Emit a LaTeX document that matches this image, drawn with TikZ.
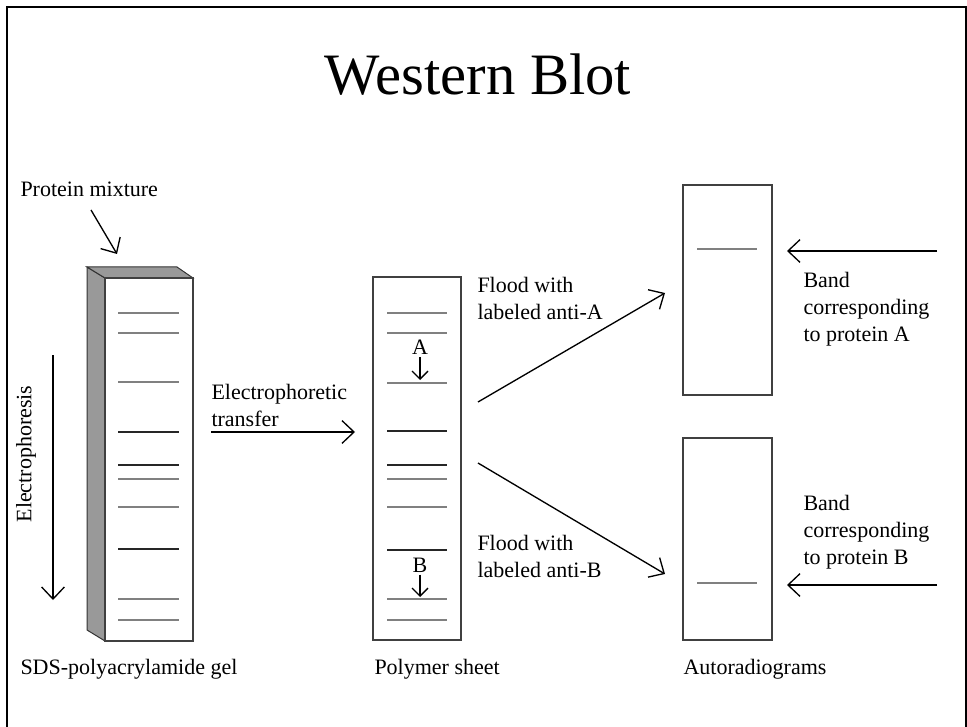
\documentclass[tikz,border=0pt]{standalone}
\usepackage{fontspec}
\setmainfont{Liberation Serif}
\usetikzlibrary{arrows.meta}

\tikzset{every picture/.style={line width=0.75pt}}
\tikzset{
  band/.style={draw=black!50, line width=1.1pt},
  darkband/.style={draw=black!85, line width=1.1pt},
  pointer/.style={line width=1pt, -{Straight Barb[length=9pt,width=17pt,line width=1pt]}},
  smallpointer/.style={line width=1pt, -{Straight Barb[length=6pt,width=12pt,line width=1pt]}},
  lbl/.style={font=\fontsize{16.5}{20.25}\selectfont, align=left, inner sep=0pt},
  panel/.style={draw=black!75, line width=1pt, inner sep=0pt},
}

\begin{document}
\begin{tikzpicture}[x=0.75pt,y=0.75pt,yscale=-1,xscale=1]
\useasboundingbox (0,0) rectangle (967,727);

%Shape: Frame
\draw [line width=1.8pt] (7,7) rectangle (966,760) ;

% Text Node
\draw (478,75) node (title) [font=\fontsize{44}{50}\selectfont] {Western Blot};

%Shape: Gel side and top faces
\draw [draw=black!80, fill=black!40] (87,267) -- (105,278) -- (105,641) -- (87,630) -- cycle ;
\draw [draw=black!80, fill=black!40] (87,267) -- (177,267) -- (193,278) -- (105,278) -- cycle ;
%Shape: Gel front face
\draw (149,459.5) node (gel) [panel, fill=white, minimum width=66pt, minimum height=272.25pt] {};

%Straight Lines: gel bands
\draw [band] (118,313) -- (179,313) ;
\draw [band] (118,333) -- (179,333) ;
\draw [band] (118,382) -- (179,382) ;
\draw [darkband] (118,432) -- (179,432) ;
\draw [darkband] (118,465) -- (179,465) ;
\draw [band] (118,479) -- (179,479) ;
\draw [band] (118,507) -- (179,507) ;
\draw [darkband] (118,549) -- (179,549) ;
\draw [band] (118,599) -- (179,599) ;
\draw [band] (118,620) -- (179,620) ;

%Shape: Polymer sheet
\draw (417,458.5) node (sheet) [panel, minimum width=66pt, minimum height=272.25pt] {};

%Straight Lines: sheet bands
\draw [band] (387,313) -- (447,313) ;
\draw [band] (387,333) -- (447,333) ;
\draw [band] (387,383) -- (447,383) ;
\draw [darkband] (387,431) -- (447,431) ;
\draw [darkband] (387,465) -- (447,465) ;
\draw [band] (387,479) -- (447,479) ;
\draw [band] (387,507) -- (447,507) ;
\draw [darkband] (387,550) -- (447,550) ;
\draw [band] (387,599) -- (447,599) ;
\draw [band] (387,620) -- (447,620) ;

%Shape: Autoradiograms
\draw (727.5,290) node (autoA) [panel, minimum width=66.75pt, minimum height=157.5pt] {};
\draw (727.5,539) node (autoB) [panel, minimum width=66.75pt, minimum height=151.5pt] {};
\draw [band] (697,249) -- (757,249) ;
\draw [band] (697,583) -- (757,583) ;

% Coordinates for arrow ends
\coordinate (mixtail) at (91,210) ;
\coordinate (mixtip) at (117,254) ;
\coordinate (ephtail) at (53,355) ;
\coordinate (ephtip) at (53,600) ;
\coordinate (transtail) at (211,432) ;
\coordinate (transtip) at (355,432) ;
\coordinate (floodAtail) at (478,402) ;
\coordinate (floodAtip) at (665,293) ;
\coordinate (floodBtail) at (478,463) ;
\coordinate (floodBtip) at (665,574) ;
\coordinate (bandAtail) at (937,251) ;
\coordinate (bandAtip) at (787,251) ;
\coordinate (bandBtail) at (937,585) ;
\coordinate (bandBtip) at (787,585) ;

% Text Node
\draw (20,181) node (mixture) [lbl, anchor=north west] {Protein mixture};
% Text Node
\draw (26,454) node (ephlabel) [lbl, rotate=90] {Electrophoresis};
% Text Node
\draw (211,384) node (translabel) [lbl, anchor=north west] {Electrophoretic\\transfer};
% Text Node
\draw (420,347) node (markA) [lbl] {A};
% Text Node
\draw (420,565) node (markB) [lbl] {B};
% Text Node
\draw (477,277) node (floodA) [lbl, anchor=north west] {Flood with\\labeled anti-A};
% Text Node
\draw (477,535) node (floodB) [lbl, anchor=north west] {Flood with\\labeled anti-B};
% Text Node
\draw (803,272) node (bandAlabel) [lbl, anchor=north west] {Band\\corresponding\\to protein A};
% Text Node
\draw (803,495) node (bandBlabel) [lbl, anchor=north west] {Band\\corresponding\\to protein B};
% Text Node
\draw (20,659) node (gellabel) [lbl, anchor=north west] {SDS-polyacrylamide gel};
% Text Node
\draw (374,659) node (sheetlabel) [lbl, anchor=north west] {Polymer sheet};
% Text Node
\draw (683,659) node (autolabel) [lbl, anchor=north west] {Autoradiograms};

%Straight Lines: arrows
\draw [pointer] (mixtail) -- (mixtip) ;
\draw [pointer] (ephtail) -- (ephtip) ;
\draw [pointer] (transtail) -- (transtip) ;
\draw [pointer] (floodAtail) -- (floodAtip) ;
\draw [pointer] (floodBtail) -- (floodBtip) ;
\draw [pointer] (bandAtail) -- (bandAtip) ;
\draw [pointer] (bandBtail) -- (bandBtip) ;
\draw [smallpointer] (markA.south) ++(0,2) -- (420,380) ;
\draw [smallpointer] (markB.south) ++(0,2) -- (420,597) ;

\end{tikzpicture}
\end{document}
